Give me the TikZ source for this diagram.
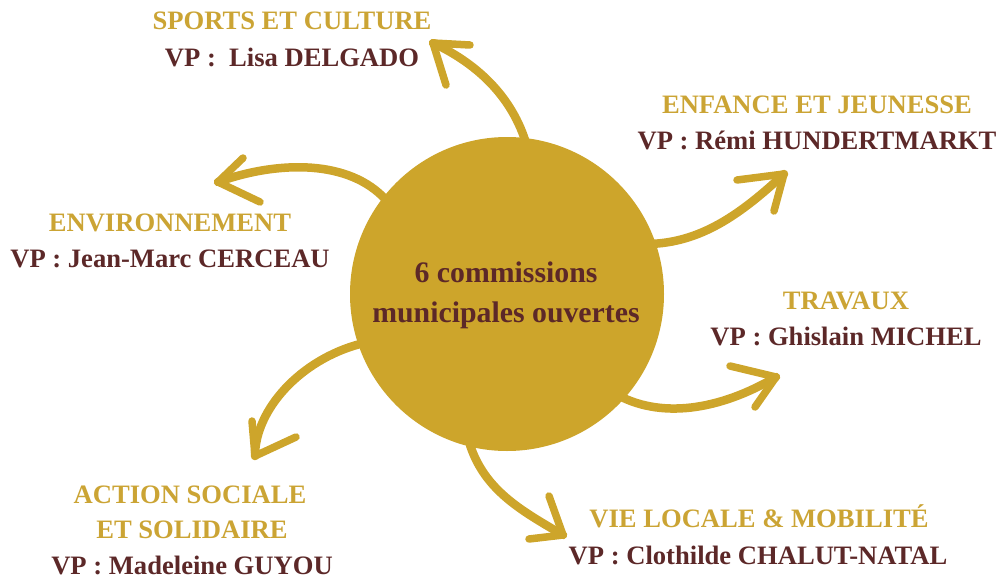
\documentclass[tikz,border=0pt]{standalone}
\usepackage{fontspec}
\setmainfont{Liberation Serif}
\definecolor{gold}{HTML}{CDA52B}
\definecolor{goldtxt}{HTML}{CBA434}
\definecolor{maroon}{HTML}{5C2828}
\begin{document}
\begin{tikzpicture}[x=1pt,y=-1pt,
  arr/.style={draw=gold,line width=8.5pt,line cap=round},
  barb/.style={draw=gold,line width=7.5pt,line cap=round,line join=round},
  ttl/.style={text=goldtxt,font=\fontsize{26.6}{26.6}\selectfont\bfseries,inner sep=0pt,anchor=base},
  vp/.style={text=maroon,font=\fontsize{26.6}{26.6}\selectfont\bfseries,inner sep=0pt,anchor=base}]
\useasboundingbox (0,0) rectangle (1002,584);
\fill[gold] (507,294) circle[radius=157];
\node[circle,minimum size=314pt,inner sep=0pt] (c) at (507,294) {};
\node[text=maroon,font=\fontsize{29.8}{29.8}\selectfont\bfseries,inner sep=0pt,anchor=base] (c1) at (506,282) {6 commissions};
\node[text=maroon,font=\fontsize{29.8}{29.8}\selectfont\bfseries,inner sep=0pt,anchor=base] (c2) at (506,322) {municipales ouvertes};
% labels
\node[ttl] (t1) at (292,29) {SPORTS ET CULTURE};
\node[vp] (v1) at (292,66) {VP :\ \ Lisa DELGADO};
\node[ttl] (t2) at (817,113) {ENFANCE ET JEUNESSE};
\node[vp] (v2) at (817,149) {VP : Rémi HUNDERTMARKT};
\node[ttl] (t3) at (170,231) {ENVIRONNEMENT};
\node[vp] (v3) at (170,267) {VP : Jean-Marc CERCEAU};
\node[ttl] (t4) at (846,309) {TRAVAUX};
\node[vp] (v4) at (846,345) {VP : Ghislain MICHEL};
\node[ttl] (t5) at (190,503) {ACTION SOCIALE};
\node[ttl] (t5b) at (192,538) {ET SOLIDAIRE};
\node[vp] (v5) at (192,574) {VP : Madeleine GUYOU};
\node[ttl] (t6) at (759,527) {VIE LOCALE \& MOBILITÉ};
\node[vp] (v6) at (758,564) {VP : Clothilde CHALUT-NATAL};
% arrow tips
\coordinate (a1) at (433,43);
\coordinate (a2) at (218,182);
\coordinate (a3) at (784,174);
\coordinate (a4) at (776,377);
\coordinate (a5) at (255,456);
\coordinate (a6) at (563,535);
% arrows
\draw[arr] (528,150) .. controls (515,100) and (480,65) .. (a1);
\draw[barb] (470,45) -- (a1) -- (446,85);
\draw[arr] (386,200) .. controls (350,160) and (280,160) .. (a2);
\draw[barb] (243,158) -- (a2) -- (260,202);
\draw[arr] (648,244) .. controls (700,243) and (740,215) .. (a3);
\draw[barb] (737,180) -- (a3) -- (774,211);
\draw[arr] (614,393) .. controls (660,420) and (720,410) .. (a4);
\draw[barb] (730,366) -- (a4) -- (755,407);
\draw[arr] (360,344) .. controls (300,360) and (255,410) .. (a5);
\draw[barb] (252,421) -- (a5) -- (296,437);
\draw[arr] (470,445) .. controls (485,490) and (520,510) .. (a6);
\draw[barb] (549,496) -- (a6) -- (529,539);
\end{tikzpicture}
\end{document}
